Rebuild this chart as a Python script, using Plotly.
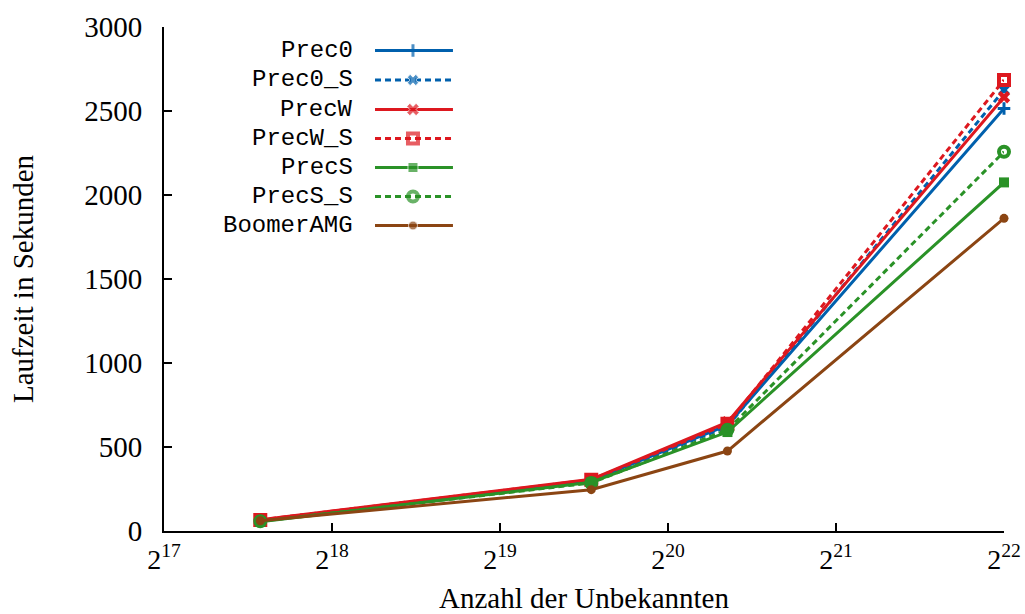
import plotly.graph_objects as go

# Problem sizes (number of unknowns) and runtimes in seconds
unknowns = [195000, 764000, 1340000, 4194304]

prec0 = [62, 300, 630, 2515]
prec0_s = [62, 296, 622, 2625]
precw = [67, 308, 648, 2582]
precw_s = [66, 305, 638, 2685]
precs = [55, 290, 589, 2075]
precs_s = [58, 286, 602, 2257]
boomeramg = [61, 246, 476, 1861]

series_names = ["Prec0", "Prec0_S", "PrecW", "PrecW_S", "PrecS", "PrecS_S", "BoomerAMG"]
series_values = [prec0, prec0_s, precw, precw_s, precs, precs_s, boomeramg]

x_tick_exponents = [17, 18, 19, 20, 21, 22]
y_tick_values = [0, 500, 1000, 1500, 2000, 2500, 3000]

BLUE = "#0060ad"
RED = "#dd181f"
GREEN = "#2a9227"
BROWN = "#8b4513"

styles = {
    "Prec0": dict(color=BLUE, dash="solid", symbol="cross-thin", size=9, mlw=3),
    "Prec0_S": dict(color=BLUE, dash="6px,4px", symbol="x", size=10, mlw=0),
    "PrecW": dict(color=RED, dash="solid", symbol="x", size=11, mlw=0),
    "PrecW_S": dict(color=RED, dash="6px,4px", symbol="square-open", size=10, mlw=4),
    "PrecS": dict(color=GREEN, dash="solid", symbol="square", size=10, mlw=0),
    "PrecS_S": dict(color=GREEN, dash="6px,4px", symbol="circle-open", size=10, mlw=4),
    "BoomerAMG": dict(color=BROWN, dash="solid", symbol="circle", size=9, mlw=0),
}

fig = go.Figure()

for name, vals in zip(series_names, series_values):
    s = styles[name]
    marker = dict(symbol=s["symbol"], size=s["size"], color=s["color"])
    if s["mlw"]:
        marker["line"] = dict(color=s["color"], width=s["mlw"])
    fig.add_trace(go.Scatter(
        x=unknowns, y=vals, name=name, mode="lines+markers",
        line=dict(color=s["color"], width=3, dash=s["dash"]),
        marker=marker, cliponaxis=False, showlegend=False,
    ))

# Key in the upper-left: right-aligned labels followed by a line sample
key_text_right = 0.2274
key_line = [0.2512, 0.2964, 0.344]
key_rows = [50.5, 80.0, 109.5, 138.5, 167.5, 196.5, 225.5]
for name, row in zip(series_names, key_rows):
    s = styles[name]
    yk = (531 - row) / 504
    marker = dict(symbol=s["symbol"], size=[0, s["size"], 0], color=s["color"])
    if s["mlw"]:
        marker["line"] = dict(color=s["color"], width=s["mlw"])
    fig.add_trace(go.Scatter(
        x=key_line, y=[yk] * 3, mode="lines+markers", xaxis="x2", yaxis="y2",
        line=dict(color=s["color"], width=3, dash=s["dash"]),
        marker=marker, cliponaxis=False, showlegend=False, hoverinfo="skip",
    ))
    fig.add_annotation(
        x=key_text_right, y=yk, xref="paper", yref="paper", text=name,
        showarrow=False, xanchor="right", yanchor="middle",
        font=dict(family="Liberation Mono, monospace", size=24, color="black"),
    )

SERIF = "Liberation Serif, Times New Roman, serif"

fig.update_layout(
    width=1025, height=614,
    margin=dict(l=164, r=21, t=27, b=83),
    paper_bgcolor="white", plot_bgcolor="white",
    font=dict(family=SERIF, size=24, color="black"),
    showlegend=False,
    xaxis=dict(
        type="log",
        range=[17 * 0.30103, 22 * 0.30103],
        tickvals=[2 ** e for e in x_tick_exponents],
        ticktext=[f"2<sup>{e}</sup>" for e in x_tick_exponents],
        tickfont=dict(family=SERIF, size=28, color="black"),
        ticks="inside", ticklen=8, tickwidth=2, tickcolor="black",
        showline=True, linecolor="black", linewidth=2,
        showgrid=False, zeroline=False, automargin=False,
        ticklabelstandoff=2,
        title=dict(text="Anzahl der Unbekannten", standoff=14),
    ),
    yaxis=dict(
        range=[0, 3000],
        tickvals=y_tick_values,
        tickfont=dict(family=SERIF, size=29, color="black"),
        ticks="inside", ticklen=8, tickwidth=2, tickcolor="black",
        showline=True, linecolor="black", linewidth=2,
        showgrid=False, zeroline=False, automargin=False,
        ticklabelstandoff=14,
        title=dict(text="Laufzeit in Sekunden", standoff=42),
    ),
    xaxis2=dict(overlaying="x", range=[0, 1], visible=False),
    yaxis2=dict(overlaying="y", range=[0, 1], visible=False),
)

fig.write_html("out.html")
